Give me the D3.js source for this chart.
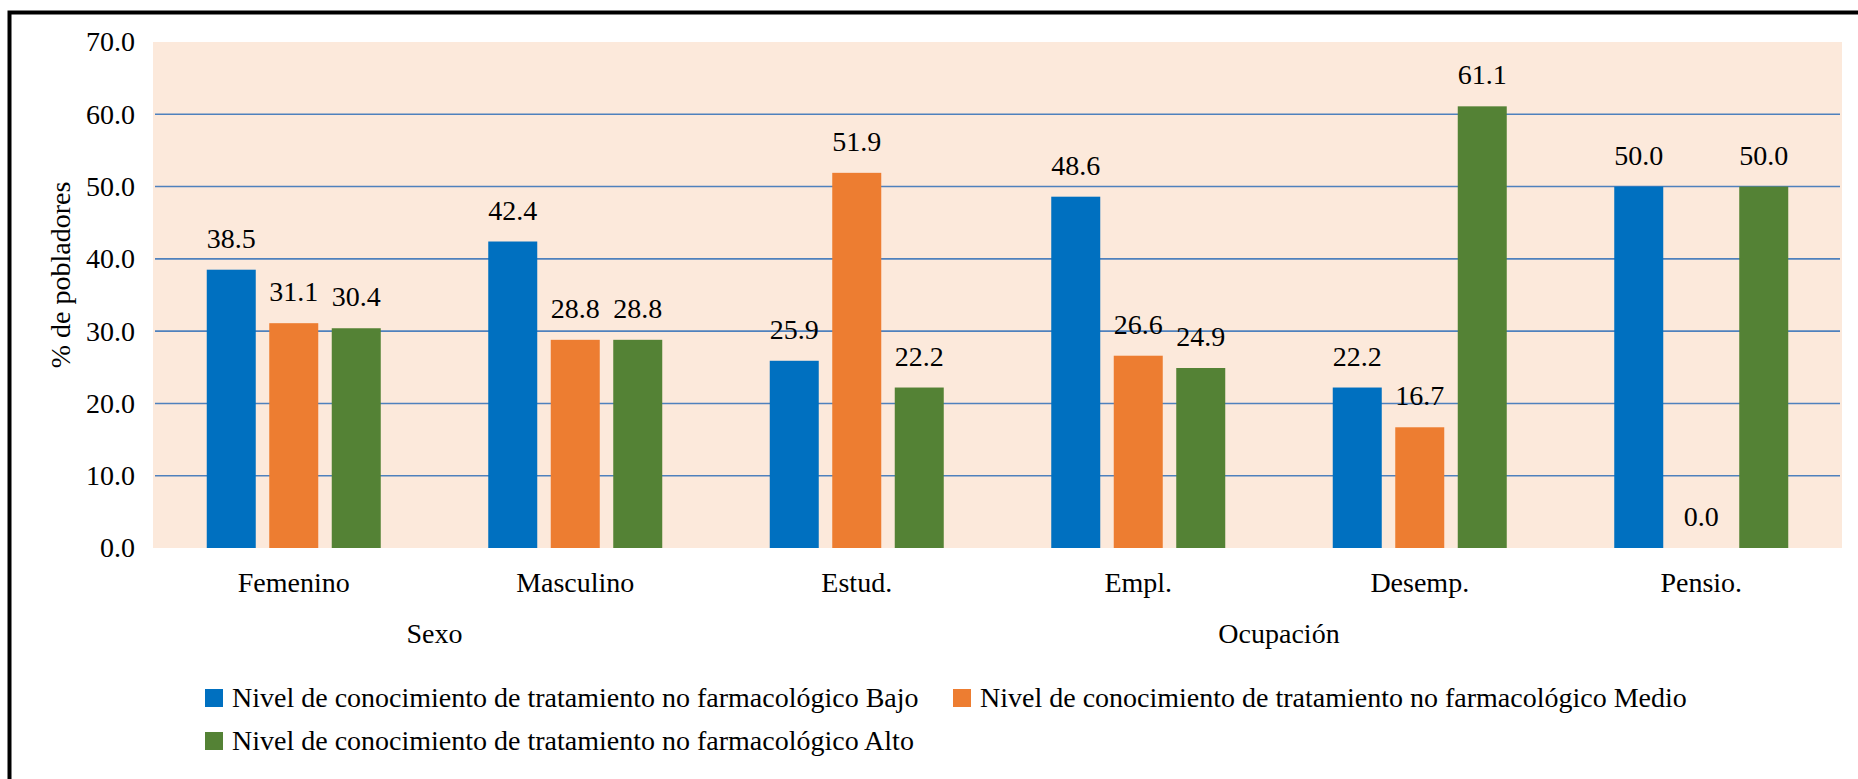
<!DOCTYPE html>
<html><head><meta charset="utf-8">
<script src="https://cdn.jsdelivr.net/npm/d3@7"></script>
<style>
body{margin:0;background:#fff;font-family:'Liberation Serif';}
svg{display:block;font-family:'Liberation Serif';}
svg text{font-family:'Liberation Serif' !important;}
</style>
</head><body><svg id="c" width="1858" height="779"></svg>
<script>
const categories = ["Femenino","Masculino","Estud.","Empl.","Desemp.","Pensio."];
const groups = [{name:"Sexo", members:["Femenino","Masculino"]},{name:"Ocupación", members:["Estud.","Empl.","Desemp.","Pensio."]}];
const seriesNames = ["Nivel de conocimiento de tratamiento no farmacológico Bajo","Nivel de conocimiento de tratamiento no farmacológico Medio","Nivel de conocimiento de tratamiento no farmacológico Alto"];
const bajo = [38.5,42.4,25.9,48.6,22.2,50.0];
const medio = [31.1,28.8,51.9,26.6,16.7,0.0];
const alto = [30.4,28.8,22.2,24.9,61.1,50.0];
const yTicks = [0,10,20,30,40,50,60,70];
const colors = ["#0070C0","#ED7D31","#548235"];
const seriesValues = [bajo, medio, alto];

const svg = d3.select("#c");
const L=153, R=1842, T=42, B=548;
const fs = 28;
function styleText(sel){
  return sel.attr("font-family","Liberation Serif").style("font-family","'Liberation Serif'")
            .attr("font-size",fs).style("font-size",fs+"px").attr("fill","#000");
}

// border
svg.append("path").attr("d","M9.5,779 L9.5,12.5 L1858,12.5").attr("fill","none").attr("stroke","#000").attr("stroke-width",4);

const x0 = d3.scaleBand().domain(categories).range([L,R]).padding(0);
const x1 = d3.scaleBand().domain(d3.range(3)).range([0,x0.bandwidth()]).paddingInner(0.216).paddingOuter(0.86);
const y = d3.scaleLinear().domain([0,70]).range([B,T]);

svg.append("rect").attr("x",L).attr("y",T).attr("width",R-L).attr("height",B-T).attr("fill","#FCE9DB");

// gridlines
svg.append("g").selectAll("line").data(yTicks.filter(t=>t>0&&t<70)).join("line")
  .attr("x1",L+2).attr("x2",R-2).attr("y1",d=>y(d)).attr("y2",d=>y(d))
  .attr("stroke","#4F81BD").attr("stroke-width",1.6);

// y axis
const yAxis = d3.axisLeft(y).tickValues(yTicks).tickFormat(d3.format(".1f")).tickSize(0).tickPadding(18);
const ga = svg.append("g").attr("transform",`translate(${L},0)`).call(yAxis);
ga.attr("font-family","Liberation Serif").attr("font-size",fs);
ga.select(".domain").remove();
styleText(ga.selectAll("text"));

styleText(svg.append("text").attr("transform","translate(60,275) rotate(-90)").attr("text-anchor","middle")
  .attr("dominant-baseline","central").text("% de pobladores"));

// bars
const data = [];
categories.forEach((c,i)=>seriesValues.forEach((s,j)=>data.push({c,j,v:s[i]})));
svg.append("g").selectAll("rect").data(data).join("rect")
  .attr("x",d=>x0(d.c)+x1(d.j)).attr("width",x1.bandwidth())
  .attr("y",d=>y(d.v)).attr("height",d=>B-y(d.v)).attr("fill",d=>colors[d.j]);

styleText(svg.append("g").selectAll("text").data(data).join("text")
  .attr("x",d=>x0(d.c)+x1(d.j)+x1.bandwidth()/2).attr("y",d=>y(d.v)-22)
  .attr("text-anchor","middle").text(d=>d3.format(".1f")(d.v)));

// x axis category labels
const xAxis = d3.axisBottom(x0).tickSize(0).tickPadding(0);
const gx = svg.append("g").attr("transform",`translate(0,${B})`).call(xAxis);
gx.attr("font-family","Liberation Serif").attr("font-size",fs);
gx.select(".domain").remove();
styleText(gx.selectAll("text")).attr("dy",null).attr("y",44);

// group labels
groups.forEach(g=>{
  const a = x0(g.members[0]), b = x0(g.members[g.members.length-1])+x0.bandwidth();
  styleText(svg.append("text").attr("x",(a+b)/2).attr("y",643).attr("text-anchor","middle").text(g.name));
});

// legend
const legPos = [[205,707],[953,707],[205,750]];
seriesNames.forEach((n,i)=>{
  const [lx,ly] = legPos[i];
  svg.append("rect").attr("x",lx).attr("y",ly-18).attr("width",18).attr("height",18).attr("fill",colors[i]);
  styleText(svg.append("text").attr("x",lx+27).attr("y",ly).text(n));
});
</script></body></html>
